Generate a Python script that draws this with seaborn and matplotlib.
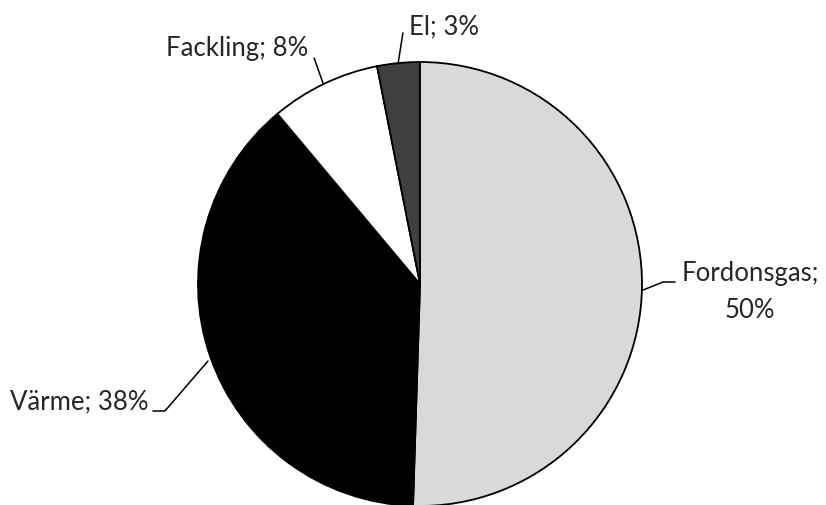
import matplotlib
matplotlib.use("Agg")
import matplotlib.pyplot as plt
import seaborn as sns

sns.set_theme(style="white")
plt.rcParams['font.family'] = ['Lato', 'DejaVu Sans']

categories = ["Fordonsgas", "Värme", "Fackling", "El"]
values = [50.5, 38.4, 8.0, 3.1]
pct_labels = ["50%", "38%", "8%", "3%"]
colors = ["#d9d9d9", "#000000", "#ffffff", "#404040"]

W, H = 826, 505
fig = plt.figure(figsize=(W / 100, H / 100), dpi=100)
cx, cy, r = 420, 284, 222
ax = fig.add_axes([(cx - r) / W, (H - cy - r) / H, 2 * r / W, 2 * r / H])

wedges, _ = ax.pie(values, colors=colors, startangle=90, counterclock=False,
                   radius=1, center=(0, 0),
                   wedgeprops=dict(edgecolor="black", linewidth=1.3))
for w in wedges:
    w.set_clip_on(False)
ax.set_xlim(-1, 1)
ax.set_ylim(-1, 1)
ax.set_aspect("equal")
ax.axis("off")

fs = 18.5
lc = dict(color="black", linewidth=1.1, clip_on=False)

# Fordonsgas
ax.plot([1.005, 1.095, 1.149], [-0.027, 0.009, 0.009], **lc)
ax.text(1.486, -0.036, f"{categories[0]};\n{pct_labels[0]}", ha="center", va="center",
        fontsize=fs, linespacing=1.6, clip_on=False)
# Värme
ax.plot([-1.203, -1.149, -0.955], [-0.572, -0.572, -0.347], **lc)
ax.text(-1.225, -0.532, f"{categories[1]}; {pct_labels[1]}", ha="right", va="center",
        fontsize=fs, clip_on=False)
# Fackling
ax.plot([-0.477, -0.437], [1.018, 0.905], **lc)
ax.text(-0.505, 1.063, f"{categories[2]}; {pct_labels[2]}", ha="right", va="center",
        fontsize=fs, clip_on=False)
# El
ax.plot([-0.077, -0.099], [1.131, 0.991], **lc)
ax.text(-0.05, 1.158, f"{categories[3]}; {pct_labels[3]}", ha="left", va="center",
        fontsize=fs, clip_on=False)

fig.savefig("out.png", dpi=100, facecolor="white")
